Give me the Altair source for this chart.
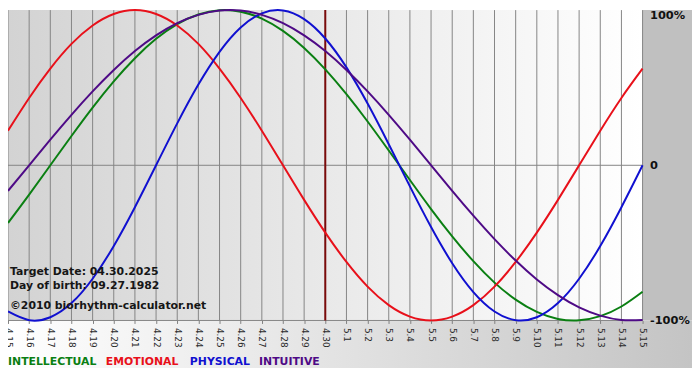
import altair as alt
import pandas as pd

dates = ["4.15", "4.16", "4.17", "4.18", "4.19", "4.20", "4.21", "4.22", "4.23", "4.24",
         "4.25", "4.26", "4.27", "4.28", "4.29", "4.30", "5.1", "5.2", "5.3", "5.4",
         "5.5", "5.6", "5.7", "5.8", "5.9", "5.10", "5.11", "5.12", "5.13", "5.14", "5.15"]

intellectual = [-37.2, -18.9, 0.0, 18.9, 37.2, 54.1, 69.0, 81.5, 91.0, 97.2, 99.9, 99.0, 94.5, 86.6, 75.6,
                61.8, 45.8, 28.2, 9.5, -9.5, -28.2, -45.8, -61.8, -75.6, -86.6, -94.5, -99.0, -99.9, -97.2,
                -91.0, -81.5]
emotional = [22.3, 43.4, 62.3, 78.2, 90.1, 97.5, 100.0, 97.5, 90.1, 78.2, 62.3, 43.4, 22.3, 0.0, -22.3,
             -43.4, -62.3, -78.2, -90.1, -97.5, -100.0, -97.5, -90.1, -78.2, -62.3, -43.4, -22.3, 0.0, 22.3,
             43.4, 62.3]
physical = [-94.2, -99.8, -97.9, -88.8, -73.1, -52.0, -27.0, 0.0, 27.0, 52.0, 73.1, 88.8, 97.9, 99.8, 94.2,
            81.7, 63.1, 39.8, 13.6, -13.6, -39.8, -63.1, -81.7, -94.2, -99.8, -97.9, -88.8, -73.1, -52.0,
            -27.0, 0.0]
intuitive = [-16.5, 0.0, 16.5, 32.5, 47.6, 61.4, 73.6, 83.7, 91.6, 96.9, 99.7, 99.7, 96.9, 91.6, 83.7,
             73.6, 61.4, 47.6, 32.5, 16.5, 0.0, -16.5, -32.5, -47.6, -61.4, -73.6, -83.7, -91.6, -96.9,
             -99.7, -99.7]

series = ["INTELLECTUAL", "EMOTIONAL", "PHYSICAL", "INTUITIVE"]
colors = ["#0a7f12", "#e8101a", "#1010d0", "#4e0a86"]
target = "4.30"
y_ticks = [-100, 0, 100]
info_lines = ["Target Date: 04.30.2025", "Day of birth: 09.27.1982", "\u00a92010 biorhythm-calculator.net"]

W, H = 642, 314
R = 50

rows = []
for name, vals in zip(series, [intellectual, emotional, physical, intuitive]):
    for i, (d, v) in enumerate(zip(dates, vals)):
        rows.append({"date": d, "series": name, "value": v, "idx": i})
df = pd.DataFrame(rows)

x_scale = alt.Scale(type="point", padding=0, domain=dates)
y_scale = alt.Scale(domain=[-100, 100], nice=False, zero=False)
one = pd.DataFrame({"a": [0]})

bg = alt.Chart(one).mark_rect(
    color=alt.LinearGradient(gradient="linear",
                             stops=[alt.GradientStop(color="#d3d3d3", offset=0),
                                    alt.GradientStop(color="#ffffff", offset=1)],
                             x1=0, x2=1, y1=0, y2=0)
).encode(x=alt.value(0), x2=alt.value(W), y=alt.value(0), y2=alt.value(H))

right_bg = alt.Chart(one).mark_rect(color="#c0c0c0").encode(
    x=alt.value(W), x2=alt.value(W + R), y=alt.value(0), y2=alt.value(H))

bottom_bg = alt.Chart(one).mark_rect(
    color=alt.LinearGradient(gradient="linear",
                             stops=[alt.GradientStop(color="#ffffff", offset=0),
                                    alt.GradientStop(color="#c4c4c4", offset=1)],
                             x1=0, x2=1, y1=0, y2=0)
).encode(x=alt.value(0), x2=alt.value(W + R), y=alt.value(H), y2=alt.value(H + 48))

grid = alt.Chart(pd.DataFrame({"date": dates})).mark_rule(color="#858585", strokeWidth=1).encode(
    x=alt.X("date:O", sort=dates, scale=x_scale,
            axis=alt.Axis(title=None, labelAngle=90, labelFont="DejaVu Sans", labelFontSize=9,
                          labelColor="#2a2a2a", tickSize=3, tickColor="#808080", domain=False,
                          grid=False, labelPadding=4, zindex=1, labelOverlap=False))
)

hrules = alt.Chart(pd.DataFrame({"v": [0, -100]})).mark_rule(color="#858585", strokeWidth=1).encode(
    y=alt.Y("v:Q", scale=y_scale,
            axis=alt.Axis(orient="right", values=y_ticks, title=None, ticks=False, domain=False,
                          grid=False, labelPadding=7, labelFont="DejaVu Sans", labelFontSize=11.5,
                          labelFontWeight="bold", labelColor="#111111", zindex=1,
                          labelExpr="datum.value == 0 ? '0' : datum.value + '%'",
                          labelBaseline={"condition": {"test": "datum.value == 100", "value": "top"},
                                         "value": "middle"}))
)

trule = alt.Chart(pd.DataFrame({"date": [target]})).mark_rule(color="#7a0a0a", strokeWidth=2).encode(
    x=alt.X("date:O", sort=dates, scale=x_scale))

lines = alt.Chart(df).mark_line(strokeWidth=2, interpolate="natural").encode(
    x=alt.X("date:O", sort=dates, scale=x_scale),
    y=alt.Y("value:Q", scale=y_scale),
    color=alt.Color("series:N", scale=alt.Scale(domain=series, range=colors), legend=None),
    order="idx:Q",
    detail="series:N",
)

texts = []
for t, yy in zip(info_lines, [265, 279, 299]):
    texts.append(alt.Chart(one).mark_text(text=t, align="left", baseline="middle", font="DejaVu Sans",
                                          fontSize=11, fontWeight="bold", color="#161616").encode(
        x=alt.value(2), y=alt.value(yy)))

for name, col, xx in zip(series, colors, [0, 99, 184, 254]):
    texts.append(alt.Chart(one).mark_text(text=name, align="left", baseline="middle", font="DejaVu Sans",
                                          fontSize=11, fontWeight="bold", color=col).encode(
        x=alt.value(xx), y=alt.value(356)))

chart = alt.layer(bg, right_bg, bottom_bg, grid, hrules, trule, lines, *texts).properties(
    width=W, height=H,
    autosize=alt.AutoSizeParams(type="none"),
    padding={"left": 0, "top": 0, "right": R, "bottom": 50},
    background="#ffffff",
).configure_view(stroke=None)

chart.save("out.html", embed_options={"renderer": "svg", "actions": False})
